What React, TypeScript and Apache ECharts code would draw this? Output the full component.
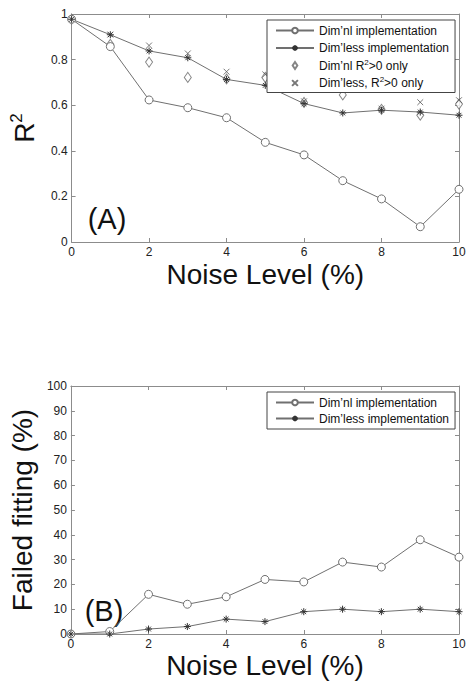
import React, { useEffect, useRef } from "react";
import * as echarts from "echarts";

// Noise levels (%) shared by both panels
const noiseLevels = [0, 1, 2, 3, 4, 5, 6, 7, 8, 9, 10];

// Panel A: coefficient of determination R^2
const r2Dimnl = [0.977, 0.857, 0.623, 0.589, 0.545, 0.437, 0.382, 0.269, 0.189, 0.067, 0.231];
const r2Dimless = [0.977, 0.909, 0.838, 0.808, 0.713, 0.687, 0.607, 0.566, 0.578, 0.57, 0.556];
const r2DimnlPositive = [0.977, 0.867, 0.789, 0.722, 0.715, 0.722, 0.612, 0.645, 0.582, 0.556, 0.605];
const r2DimlessPositive = [0.977, 0.91, 0.862, 0.827, 0.747, 0.735, 0.617, 0.68, 0.585, 0.613, 0.622];

// Panel B: share of failed fits (%)
const failDimnl = [0, 1, 16, 12, 15, 22, 21, 29, 27, 38, 31];
const failDimless = [0, 0, 2, 3, 6, 5, 9, 10, 9, 10, 9];

const NAME_NL = "Dim\u2019nl implementation";
const NAME_LESS = "Dim\u2019less implementation";
const NAME_NL_POS = "Dim\u2019nl R2>0 only";
const NAME_LESS_POS = "Dim\u2019less, R2>0 only";

const xTicksA = { min: 0, max: 10, interval: 2 };
const yTicksA = { min: 0, max: 1, interval: 0.2 };
const yTicksB = { min: 0, max: 100, interval: 10 };

const FONT = "'Liberation Sans', Arial, Helvetica, sans-serif";
const FRAME = "#8c8c8c";
const LINE = "#707070";
const DARK = "#333333";

// Marker outlines (stroked, not filled)
const STAR = "path://M5 0 L5 10 M0 5 L10 5 M1.6 1.6 L8.4 8.4 M1.6 8.4 L8.4 1.6";
const CROSS = "path://M-1 -1 M0 0 L10 10 M0 10 L10 0 M11 11";
const DIAMOND = "path://M4 0 L8 6 L4 12 L0 6 Z";

const pairs = (ys: number[]) => noiseLevels.map((x, i) => [x, ys[i]]);

function boxAxis(gridIndex: number, position: string, range: any, showLabels: boolean, extra: any = {}) {
  return {
    type: "value",
    gridIndex,
    position,
    ...range,
    axisLine: { show: true, onZero: false, lineStyle: { color: FRAME, width: 1 } },
    axisTick: { show: true, inside: true, length: 4, lineStyle: { color: FRAME } },
    axisLabel: {
      show: showLabels,
      fontFamily: FONT,
      fontSize: 12,
      color: "#222",
      margin: 4,
    },
    splitLine: { show: false },
    ...extra,
  };
}

const supRich = {
  sup: { fontSize: 8, lineHeight: 8, verticalAlign: "top", fontFamily: FONT, color: "#111" },
};

const legendBase = {
  orient: "vertical",
  left: 267,
  itemWidth: 38,
  itemHeight: 7,
  borderColor: "#444",
  borderWidth: 1,
  backgroundColor: "#ffffff",
};

const circleLine = {
  symbol: "circle",
  symbolSize: 8,
  lineStyle: { color: LINE, width: 1 },
  itemStyle: { color: "#ffffff", borderColor: LINE, borderWidth: 1 },
};

const starLine = {
  symbol: STAR,
  symbolSize: 7,
  lineStyle: { color: LINE, width: 1 },
  itemStyle: { color: DARK, borderColor: DARK, borderWidth: 1 },
};

export default function App() {
  const ref = useRef<HTMLDivElement>(null);

  useEffect(() => {
    if (!ref.current) return;
    const chart = echarts.init(ref.current, null, { renderer: "svg" });

    const xName = {
      name: "Noise Level (%)",
      nameLocation: "middle",
      nameTextStyle: { fontFamily: FONT, fontSize: 28, color: "#111" },
    };

    chart.setOption({
      animation: false,
      backgroundColor: "#ffffff",
      textStyle: { fontFamily: FONT },
      grid: [
        { left: 68, right: 17, top: 14, bottom: 444 },
        { left: 63, right: 17, top: 386, bottom: 52 },
      ],
      xAxis: [
        boxAxis(0, "bottom", xTicksA, true, { ...xName, nameGap: 18 }),
        boxAxis(0, "top", xTicksA, false),
        boxAxis(1, "bottom", xTicksA, true, { ...xName, nameGap: 17 }),
        boxAxis(1, "top", xTicksA, false),
      ],
      yAxis: [
        boxAxis(0, "left", yTicksA, true, {
          name: "R{sup|2}",
          nameLocation: "middle",
          nameRotate: 90,
          nameGap: 25,
          nameTextStyle: {
            fontFamily: FONT,
            fontSize: 28,
            lineHeight: 32,
            color: "#111",
            rich: { sup: { fontSize: 17, lineHeight: 17, verticalAlign: "top", fontFamily: FONT, color: "#111" } },
          },
        }),
        boxAxis(0, "right", yTicksA, false),
        boxAxis(1, "left", yTicksB, true, {
          name: "Failed fitting (%)",
          nameLocation: "middle",
          nameRotate: 90,
          nameGap: 23,
          nameTextStyle: { fontFamily: FONT, fontSize: 28, color: "#111" },
        }),
        boxAxis(1, "right", yTicksB, false),
      ],
      legend: [
        {
          ...legendBase,
          data: [NAME_NL, NAME_LESS, NAME_NL_POS, NAME_LESS_POS],
          top: 20,
          padding: [3, 6, 2, 8],
          itemGap: 2.5,
          formatter: (n: string) => n.replace("R2", "R{sup|2}"),
          textStyle: { fontFamily: FONT, fontSize: 12, color: "#111", lineHeight: 15, rich: supRich },
        },
        {
          ...legendBase,
          data: [NAME_NL, NAME_LESS],
          top: 392,
          padding: [3, 6, 3, 8],
          itemGap: 1,
          textStyle: { fontFamily: FONT, fontSize: 12, color: "#111", lineHeight: 15 },
        },
      ],
      graphic: [
        {
          type: "text",
          x: 107,
          y: 219,
          style: { text: "(A)", font: `29px ${FONT}`, fill: "#111", textAlign: "center", textVerticalAlign: "middle" },
        },
        {
          type: "text",
          x: 104,
          y: 611,
          style: { text: "(B)", font: `29px ${FONT}`, fill: "#111", textAlign: "center", textVerticalAlign: "middle" },
        },
      ],
      series: [
        { name: NAME_NL, type: "line", xAxisIndex: 0, yAxisIndex: 0, data: pairs(r2Dimnl), ...circleLine },
        { name: NAME_LESS, type: "line", xAxisIndex: 0, yAxisIndex: 0, data: pairs(r2Dimless), ...starLine },
        {
          name: NAME_NL_POS,
          type: "scatter",
          xAxisIndex: 0,
          yAxisIndex: 0,
          data: pairs(r2DimnlPositive),
          symbol: DIAMOND,
          symbolSize: [7, 10],
          itemStyle: { color: "#ffffff", borderColor: "#666", borderWidth: 1 },
        },
        {
          name: NAME_LESS_POS,
          type: "scatter",
          xAxisIndex: 0,
          yAxisIndex: 0,
          data: pairs(r2DimlessPositive),
          symbol: CROSS,
          symbolSize: 7,
          itemStyle: { color: "#555", borderColor: "#555", borderWidth: 1 },
        },
        { name: NAME_NL, type: "line", xAxisIndex: 2, yAxisIndex: 2, data: pairs(failDimnl), ...circleLine },
        { name: NAME_LESS, type: "line", xAxisIndex: 2, yAxisIndex: 2, data: pairs(failDimless), ...starLine },
      ],
    });

    return () => chart.dispose();
  }, []);

  return (
    <div
      ref={ref}
      style={{ position: "fixed", left: 0, top: 0, width: 476, height: 686, background: "#fff" }}
    />
  );
}
